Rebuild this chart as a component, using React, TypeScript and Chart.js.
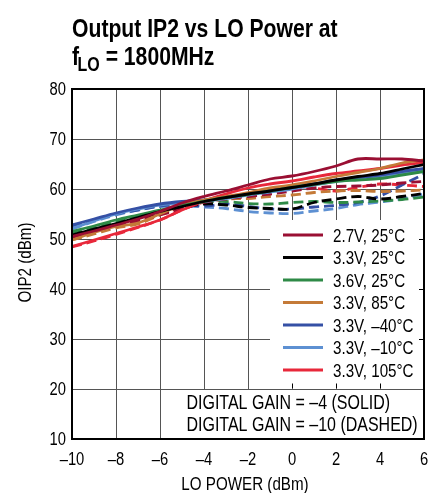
import React, { useEffect, useRef } from "react";
import { Chart, registerables } from "chart.js";

Chart.register(...registerables);

const FONT = '"Liberation Sans", Arial, sans-serif';
const SX = 0.82; // horizontal condensing of all text

const LO_POWER = [-10, -9, -8, -7, -6, -5, -4, -3, -2, -1, 0, 1, 2, 3, 4, 5, 6];
const X_TICKS = [-10, -8, -6, -4, -2, 0, 2, 4, 6];
const Y_TICKS = [10, 20, 30, 40, 50, 60, 70, 80];

const SERIES_LABELS = ["2.7V, 25°C", "3.3V, 25°C", "3.6V, 25°C", "3.3V, 85°C", "3.3V, –40°C", "3.3V, –10°C", "3.3V, 105°C"];
const SERIES_COLORS = ["#9a0f33", "#000000", "#2e8a47", "#c47a38", "#3550a5", "#5d90d2", "#e8283a"];

// Digital gain = -4 (solid)
const SOLID_27V_25C = [50.5, 51.6, 52.8, 54.0, 55.5, 57.2, 58.5, 59.6, 60.8, 62.0, 62.6, 63.5, 64.6, 66.0, 66.0, 66.0, 65.6];
const SOLID_33V_25C = [50.8, 52.0, 53.1, 54.3, 55.5, 56.5, 57.5, 58.3, 59.0, 59.6, 60.3, 61.0, 61.8, 62.5, 63.1, 64.0, 64.9];
const SOLID_36V_25C = [51.5, 52.6, 53.8, 54.8, 55.8, 56.7, 57.5, 58.3, 58.9, 59.6, 60.3, 60.9, 61.5, 61.8, 62.1, 62.8, 63.5];
const SOLID_33V_85C = [49.8, 51.3, 52.5, 53.2, 55.0, 56.8, 57.8, 58.5, 59.3, 60.2, 60.8, 61.6, 62.5, 63.3, 64.1, 65.2, 65.8];
const SOLID_33V_M40C = [52.8, 54.0, 55.2, 56.2, 57.0, 57.5, 57.8, 58.3, 59.0, 59.6, 60.3, 61.0, 61.8, 62.3, 62.8, 63.5, 64.1];
const SOLID_33V_M10C = [52.1, 53.6, 55.0, 56.0, 56.8, 57.2, 57.5, 58.1, 58.8, 59.4, 60.0, 60.8, 61.5, 62.0, 62.5, 63.1, 63.8];
const SOLID_33V_105C = [48.5, 49.8, 51.1, 52.4, 53.8, 55.8, 57.6, 59.0, 60.2, 61.0, 61.6, 62.4, 63.1, 63.6, 64.1, 64.8, 65.3];

// Digital gain = -10 (dashed)
const DASH_27V_25C = [50.3, 51.5, 52.5, 53.6, 54.8, 56.0, 57.3, 58.0, 58.5, 59.0, 59.6, 60.2, 60.5, 60.6, 60.8, 61.2, 61.5];
const DASH_33V_25C = [50.5, 51.7, 52.8, 53.8, 55.0, 56.2, 57.0, 56.8, 56.3, 56.1, 56.0, 57.3, 58.0, 58.5, 58.0, 58.5, 59.1];
const DASH_36V_25C = [51.3, 52.4, 53.5, 54.5, 55.5, 56.5, 57.3, 57.5, 57.1, 57.0, 57.3, 57.5, 57.3, 57.4, 57.6, 57.9, 58.4];
const DASH_33V_85C = [49.8, 51.0, 52.2, 53.0, 54.8, 56.5, 57.4, 58.0, 58.1, 58.5, 58.8, 59.3, 59.6, 59.7, 59.5, 59.6, 59.8];
const DASH_33V_M40C = [52.6, 53.8, 55.0, 55.8, 56.6, 57.0, 56.6, 57.0, 56.5, 56.0, 56.0, 56.4, 56.7, 57.3, 58.6, 60.8, 63.0];
const DASH_33V_M10C = [52.0, 53.5, 54.8, 55.8, 56.5, 56.6, 56.4, 56.1, 55.5, 55.2, 55.1, 55.6, 56.1, 56.9, 57.4, 58.0, 59.0];
const DASH_33V_105C = [48.4, 49.6, 50.9, 52.3, 53.8, 55.8, 57.4, 58.3, 59.0, 59.8, 60.5, 60.2, 59.6, 60.3, 61.0, 60.8, 60.5];

const SOLID = [SOLID_27V_25C, SOLID_33V_25C, SOLID_36V_25C, SOLID_33V_85C, SOLID_33V_M40C, SOLID_33V_M10C, SOLID_33V_105C];
const DASHED = [DASH_27V_25C, DASH_33V_25C, DASH_36V_25C, DASH_33V_85C, DASH_33V_M40C, DASH_33V_M10C, DASH_33V_105C];

const fmt = (v: number) => (v < 0 ? "\u2013" + Math.abs(v) : String(v));

function txt(ctx: CanvasRenderingContext2D, s: string, x: number, y: number, size: number, bold = false, align: "left" | "center" | "right" = "left") {
  ctx.save();
  ctx.font = `${bold ? "bold " : ""}${size}px ${FONT}`;
  ctx.textAlign = "left";
  ctx.textBaseline = "alphabetic";
  const w = ctx.measureText(s).width * SX;
  const x0 = align === "center" ? x - w / 2 : align === "right" ? x - w : x;
  ctx.translate(x0, y);
  ctx.scale(SX, 1);
  ctx.fillStyle = "#000";
  ctx.fillText(s, 0, 0);
  ctx.restore();
  return w;
}

const overlayPlugin = {
  id: "overlay",
  beforeDatasetsDraw(chart: any) {
    const { ctx, chartArea: a, scales } = chart;
    const x = scales.x;
    const y = scales.y;
    ctx.save();
    ctx.fillStyle = "#ffffff";
    const y20 = Math.round(y.getPixelForValue(20));
    // legend box
    const lbL = 270, lbT = 220, lbB = y20 - 0.5;
    ctx.fillRect(lbL, lbT, a.right - lbL, lbB - lbT);
    // note box
    const nbL = 170, nbT = y20 + 1;
    ctx.fillRect(nbL, nbT, a.right - nbL, a.bottom - nbT);
    // small ticks on legend box edges
    ctx.strokeStyle = "#000";
    ctx.lineWidth = 1;
    ctx.beginPath();
    [30, 40, 50].forEach((v) => {
      const py = Math.round(y.getPixelForValue(v)) + 0.5;
      ctx.moveTo(a.right - 5, py);
      ctx.lineTo(a.right, py);
    });
    [0, 2, 4].forEach((v) => {
      const px = Math.round(x.getPixelForValue(v)) + 0.5;
      ctx.moveTo(px, lbB - 5);
      ctx.lineTo(px, lbB);
    });
    ctx.stroke();
    ctx.restore();
  },
  afterDraw(chart: any) {
    const { ctx, chartArea: a, scales } = chart;
    const x = scales.x;
    const y = scales.y;
    ctx.save();
    // frame
    ctx.strokeStyle = "#000";
    ctx.lineWidth = 2;
    ctx.strokeRect(a.left, a.top, a.right - a.left, a.bottom - a.top);
    // title
    txt(ctx, "Output IP2 vs LO Power at", 72, 37, 25.8, true);
    let cx = 72;
    cx += txt(ctx, "f", cx, 65, 25.8, true) - 1.5;
    cx += txt(ctx, "LO", cx, 70.5, 19.5, true);
    txt(ctx, " = 1800MHz", cx, 65, 25.8, true);
    // tick labels
    Y_TICKS.forEach((v) => txt(ctx, fmt(v), a.left - 6, y.getPixelForValue(v) + 6.4, 18, false, "right"));
    X_TICKS.forEach((v) => txt(ctx, fmt(v), x.getPixelForValue(v), 465, 18, false, "center"));
    // axis titles
    txt(ctx, "LO POWER (dBm)", 245, 490, 18.5, false, "center");
    ctx.save();
    ctx.translate(30.7, 262.5);
    ctx.rotate(-Math.PI / 2);
    txt(ctx, "OIP2 (dBm)", 0, 0, 18.5, false, "center");
    ctx.restore();
    // legend
    SERIES_LABELS.forEach((lab, i) => {
      const ry = 235 + i * 22.5;
      ctx.strokeStyle = SERIES_COLORS[i];
      ctx.lineWidth = 3;
      ctx.beginPath();
      ctx.moveTo(283, ry);
      ctx.lineTo(323, ry);
      ctx.stroke();
      txt(ctx, lab, 333, ry + 6.6, 18.5);
    });
    // note
    txt(ctx, "DIGITAL GAIN = \u20134 (SOLID)", 186.5, 409, 19.5);
    txt(ctx, "DIGITAL GAIN = \u201310 (DASHED)", 186.5, 430.7, 19.5);
    ctx.restore();
  },
};

export default function App() {
  const ref = useRef<HTMLCanvasElement>(null);
  useEffect(() => {
    if (!ref.current) return;
    const datasets: any[] = [];
    SOLID.forEach((vals, i) => {
      datasets.push({
        label: SERIES_LABELS[i] + " solid",
        data: LO_POWER.map((xv, k) => ({ x: xv, y: vals[k] })),
        borderColor: SERIES_COLORS[i],
        borderWidth: 2.8,
        pointRadius: 0,
        tension: 0.35,
        fill: false,
      });
    });
    DASHED.forEach((vals, i) => {
      datasets.push({
        label: SERIES_LABELS[i] + " dashed",
        data: LO_POWER.map((xv, k) => ({ x: xv, y: vals[k] })),
        borderColor: SERIES_COLORS[i],
        borderWidth: 2.8,
        borderDash: [10, 5],
        pointRadius: 0,
        tension: 0.35,
        fill: false,
      });
    });
    const chart = new Chart(ref.current, {
      type: "line",
      data: { datasets },
      options: {
        animation: false,
        responsive: false,
        maintainAspectRatio: false,
        layout: { padding: { top: 89, right: 16, left: 0, bottom: 0 } },
        plugins: { legend: { display: false }, tooltip: { enabled: false }, title: { display: false } },
        scales: {
          x: {
            type: "linear",
            min: -10,
            max: 6,
            afterBuildTicks: (s: any) => { s.ticks = X_TICKS.map((v) => ({ value: v })); },
            afterFit: (s: any) => { s.height = 54; },
            grid: { color: "#555", lineWidth: 1, drawTicks: false },
            border: { color: "#000", width: 2 },
            ticks: { display: false },
          },
          y: {
            type: "linear",
            min: 10,
            max: 80,
            afterBuildTicks: (s: any) => { s.ticks = Y_TICKS.map((v) => ({ value: v })); },
            afterFit: (s: any) => { s.width = 72; },
            grid: { color: "#555", lineWidth: 1, drawTicks: false },
            border: { color: "#000", width: 2 },
            ticks: { display: false },
          },
        },
      },
      plugins: [overlayPlugin],
    });
    return () => chart.destroy();
  }, []);
  return (
    <div style={{ position: "absolute", left: 0, top: 0, width: 440, height: 493, background: "#fff" }}>
      <canvas ref={ref} width={440} height={493} style={{ width: 440, height: 493, display: "block" }} />
    </div>
  );
}
